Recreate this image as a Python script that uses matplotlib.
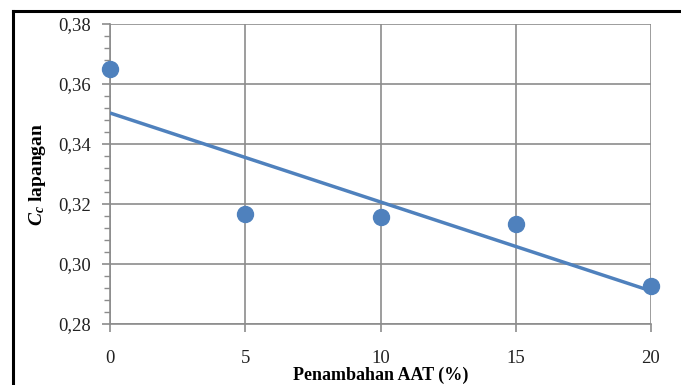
import numpy as np
import matplotlib
matplotlib.use("Agg")
import matplotlib.pyplot as plt
from matplotlib.lines import Line2D
from matplotlib.ticker import MultipleLocator, FuncFormatter

# Data: field compression index vs. AAT addition
aat_percent = [0, 5, 10, 15, 20]
cc_lapangan = [0.365, 0.3168, 0.3157, 0.3133, 0.2926]

plt.rcParams["font.family"] = ["Liberation Serif", "DejaVu Serif"]
plt.rcParams["mathtext.fontset"] = "custom"
plt.rcParams["mathtext.it"] = "Liberation Serif:italic:bold"
plt.rcParams["mathtext.rm"] = "Liberation Serif:bold"

blue = "#4F81BD"
grid_gray = "#8C8C8C"

fig = plt.figure(figsize=(6.81, 3.85), dpi=100)
ax = fig.add_axes([110 / 681, 1 - 324 / 385, (651 - 110) / 681, (324 - 24) / 385])

# Linear trendline fitted to the data
coef = np.polyfit(aat_percent, cc_lapangan, 1)
xfit = np.array([min(aat_percent), max(aat_percent)])
ax.plot(xfit, np.polyval(coef, xfit), color=blue, lw=2.5, zorder=3,
        solid_capstyle="butt")
ax.plot(aat_percent, cc_lapangan, "o", color=blue, ms=11.5, zorder=4,
        clip_on=False)

ax.set_xlim(0, 20)
ax.set_ylim(0.28, 0.38)
ax.xaxis.set_major_locator(MultipleLocator(5))
ax.yaxis.set_major_locator(MultipleLocator(0.02))
ax.yaxis.set_minor_locator(MultipleLocator(0.004))
ax.yaxis.set_major_formatter(FuncFormatter(lambda v, p: f"{v:.2f}".replace(".", ",")))

ax.grid(True, which="major", color=grid_gray, lw=1.2)
ax.set_axisbelow(True)
for side in ["top", "right"]:
    ax.spines[side].set_visible(False)
for side in ["left", "bottom"]:
    ax.spines[side].set_color(grid_gray)
    ax.spines[side].set_linewidth(1.2)

ax.tick_params(axis="both", which="major", direction="out", length=6,
               width=1.2, color=grid_gray, labelsize=13.5, labelcolor="#222222")
ax.tick_params(axis="y", which="minor", direction="out", length=4,
               width=1.0, color=grid_gray)
ax.tick_params(axis="x", pad=13)
ax.tick_params(axis="y", pad=8)

ax.set_xlabel("Penambahan AAT (%)", fontsize=13, fontweight="bold",
              labelpad=-0.5)
ax.set_ylabel(r"$C_c$ lapangan", fontsize=14, fontweight="bold", labelpad=7)

# Outer frame lines along the top and left
fig.add_artist(Line2D([12.5 / 681, 1.0], [1 - 10.5 / 385, 1 - 10.5 / 385],
                      transform=fig.transFigure, color="black", lw=2.2))
fig.add_artist(Line2D([12.5 / 681, 12.5 / 681], [0, 1 - 10.5 / 385],
                      transform=fig.transFigure, color="black", lw=2.2))

fig.savefig("out.png", dpi=100)
